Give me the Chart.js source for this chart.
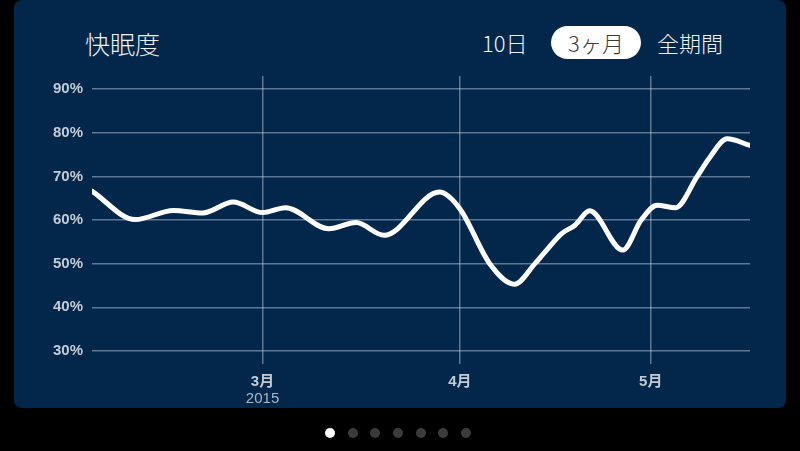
<!DOCTYPE html>
<html>
<head>
<meta charset="utf-8">
<script src="https://cdn.jsdelivr.net/npm/chart.js@4"></script>
<style>
  html, body { margin: 0; padding: 0; background: #000; }
  body { width: 800px; height: 451px; position: relative; overflow: hidden; font-family: 'Noto Sans CJK JP', sans-serif; }
  .card { position: absolute; left: 14px; top: 0; width: 772px; height: 408px; background: #03274a; border-radius: 8px; }
  .title { position: absolute; left: 85px; top: 26px; font-size: 25px; line-height: 34px; color: #eef1f5; font-weight: 300; }
  .range { position: absolute; top: 26px; height: 33px; line-height: 33px; font-size: 22px; color: #eef1f5; font-weight: 300; }
  .range.on { background: #fff; color: #3a3a3a; border-radius: 17px; width: 90px; text-align: center; }
  .dots { position: absolute; top: 428px; left: 325px; }
  .dots span { position: absolute; top: 0; width: 10px; height: 10px; border-radius: 5px; background: #3b3b3b; }
  .dots span.on { background: #fff; }
  canvas { position: absolute; left: 0; top: 0; }
</style>
</head>
<body>
<div class="card"></div>
<div class="title">快眠度</div>
<div class="range" style="left:482px">10日</div>
<div class="range on" style="left:551px">3ヶ月</div>
<div class="range" style="left:657px">全期間</div>
<div class="dots">
  <span class="on" style="left:0px"></span>
  <span style="left:23px"></span>
  <span style="left:45px"></span>
  <span style="left:68px"></span>
  <span style="left:91px"></span>
  <span style="left:113px"></span>
  <span style="left:136px"></span>
</div>
<canvas id="sleepChart" width="800" height="451"></canvas>
<script>
// day of year 2015 (1 = Jan 1)
const days = [33.2, 40.0, 46.0, 50.6, 55.4, 60.0, 63.6, 70.4, 74.7, 79.1, 87.8, 91.0, 95.7, 99.6, 102.8, 104.4, 107.0, 109.1, 111.4, 116.6, 119.5, 122.0, 124.9, 128.3, 130.3, 133.0, 136.6];
const scores = [66.6, 60.1, 62.2, 61.6, 64.1, 61.7, 62.8, 58.0, 59.4, 56.5, 66.4, 62.6, 50.0, 45.3, 50.0, 52.7, 56.9, 58.8, 62.1, 53.1, 60.0, 63.4, 62.8, 70.0, 74.4, 78.6, 77.1];

const monthDays = [60, 91, 121];
const monthLabels = ['3月', '4月', '5月'];
const yearLabel = '2015';
const yTicks = [30, 40, 50, 60, 70, 80, 90];

const tickFont = "'Liberation Sans', 'Noto Sans CJK JP', sans-serif";
const gridColor = 'rgba(185,200,220,0.5)';

const yearPlugin = {
    id: 'yearLabel',
    afterDraw(chart) {
        const xs = chart.scales.x;
        const ctx = chart.ctx;
        ctx.save();
        ctx.font = '15px ' + tickFont;
        ctx.fillStyle = '#a9b6c5';
        ctx.textAlign = 'center';
        ctx.textBaseline = 'middle';
        ctx.fillText(yearLabel, xs.getPixelForValue(monthDays[0]), xs.top + 35);
        ctx.restore();
    }
};

const ctx = document.getElementById('sleepChart').getContext('2d');
new Chart(ctx, {
    type: 'line',
    data: {
        datasets: [{
            data: days.map((d, i) => ({ x: d, y: scores[i] })),
            borderColor: '#ffffff',
            borderWidth: 5,
            borderCapStyle: 'round',
            borderJoinStyle: 'round',
            pointRadius: 0,
            cubicInterpolationMode: 'monotone',
            fill: false
        }]
    },
    options: {
        responsive: false,
        animation: false,
        events: [],
        layout: { padding: { top: 76, right: 50, left: 0, bottom: 0 } },
        plugins: { legend: { display: false }, tooltip: { enabled: false } },
        scales: {
            x: {
                type: 'linear',
                min: days[0],
                max: days[days.length - 1],
                afterBuildTicks: axis => { axis.ticks = monthDays.map(v => ({ value: v })); },
                afterFit: scale => { scale.height = 87; },
                grid: { color: gridColor, lineWidth: 1.5, drawTicks: false },
                border: { display: false },
                ticks: {
                    autoSkip: false,
                    maxRotation: 0,
                    padding: 9,
                    color: '#c3ccd6',
                    font: { family: tickFont, size: 15, weight: 'bold' },
                    callback: v => monthLabels[monthDays.indexOf(v)]
                }
            },
            y: {
                min: 27,
                max: 93,
                afterBuildTicks: axis => { axis.ticks = yTicks.map(v => ({ value: v })); },
                afterFit: scale => { scale.width = 92; },
                grid: { color: gridColor, lineWidth: 1.5, drawTicks: false },
                border: { display: false },
                ticks: {
                    padding: 9,
                    color: '#c3ccd6',
                    font: { family: tickFont, size: 15, weight: 'bold' },
                    callback: v => v + '%'
                }
            }
        }
    },
    plugins: [yearPlugin]
});
</script>
</body>
</html>
